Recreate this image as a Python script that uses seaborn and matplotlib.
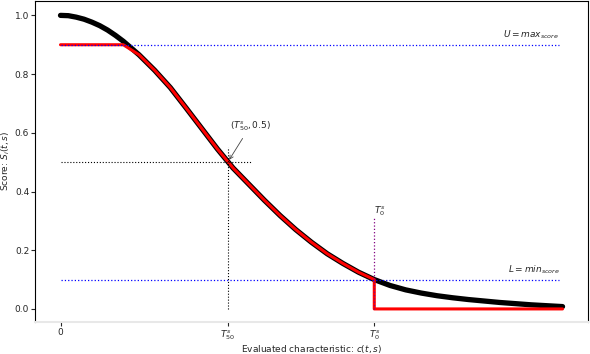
import numpy as np
import pandas as pd
import matplotlib
matplotlib.use('Agg')
import matplotlib.pyplot as plt
import seaborn as sns

# values (x in arbitrary units, T0 = 10)
char_x = [0, 0.25, 0.5, 0.75, 1, 1.25, 1.5, 1.75, 2, 2.5, 3, 3.5, 4, 4.5,
          5, 5.5, 6, 6.5, 7, 7.5, 8, 8.5, 9, 9.5, 10,
          10.5, 11, 11.5, 12, 12.5, 13, 14, 15, 16]
score = [1.0, 0.999, 0.994, 0.987, 0.977, 0.965, 0.950, 0.932, 0.912, 0.866,
         0.813, 0.754, 0.685, 0.615, 0.545, 0.480, 0.425, 0.370, 0.318,
         0.270, 0.227, 0.188, 0.155, 0.125, 0.100,
         0.080, 0.065, 0.054, 0.045, 0.038, 0.032, 0.022, 0.014, 0.008]

U = 0.9
L = 0.1
T50 = 5.33
T0 = 10
tick_pos = [0, T50, T0]
tick_labels = ['0', '$T^s_{50}$', '$T^s_0$']

data = pd.DataFrame({'c': char_x, 'score': score})

# clipped score: capped at U, zero after the threshold T0
clip = data.copy()
clip['score'] = clip['score'].clip(upper=U)
clip.loc[clip['c'] > T0, 'score'] = 0.0
drop = pd.DataFrame({'c': [T0], 'score': [0.0]})
clip = pd.concat([clip[clip['c'] <= T0], drop, clip[clip['c'] > T0]],
                 ignore_index=True)

sns.set_style('ticks')
plt.rcParams['font.size'] = 6.5

fig, ax = plt.subplots(figsize=(5.9, 3.54), dpi=100)
fig.subplots_adjust(left=0.06, right=0.996, top=0.998, bottom=0.09)

sns.lineplot(data=data, x='c', y='score', color='black', linewidth=3.8,
             sort=False, estimator=None, ax=ax)
sns.lineplot(data=clip, x='c', y='score', color='red', linewidth=2.2,
             sort=False, estimator=None, ax=ax)

# U and L bounds
ax.hlines([U, L], 0, 15.9, colors='blue', linestyles=':', linewidth=0.9)
ax.text(15.9, U + 0.012, '$U = max_{score}$', ha='right', va='bottom',
        fontsize=6.5)
ax.text(15.9, L + 0.012, '$L = min_{score}$', ha='right', va='bottom',
        fontsize=6.5)

# T50 guides
ax.hlines(0.5, 0, 6.1, colors='black', linestyles=':', linewidth=0.8)
ax.vlines(T50, 0, 0.55, colors='black', linestyles=':', linewidth=0.8)
ax.annotate('$(T^s_{50}, 0.5)$', xy=(T50, 0.5), xytext=(6.05, 0.6),
            ha='center', va='bottom', fontsize=6.5,
            arrowprops=dict(arrowstyle='->', color='#444444', lw=0.6))

# T0 guide
ax.vlines(T0, 0, 0.31, colors='purple', linestyles=':', linewidth=0.9)
ax.text(T0, 0.31, '$T^s_0$', ha='left', va='bottom', fontsize=6.5)

ax.set_xticks(tick_pos)
ax.set_xticklabels(tick_labels)
ax.set_ylim(-0.045, 1.05)
ax.set_xlabel('Evaluated characteristic: $c(t, s)$', fontsize=6.5, labelpad=0.5)
ax.set_ylabel('Score: $S_i(t, s)$', fontsize=6.5, labelpad=2)
ax.tick_params(labelsize=6.5, length=3, pad=1.5)

for side in ['left', 'right', 'top']:
    ax.spines[side].set_visible(True)
    ax.spines[side].set_color('black')
ax.spines['bottom'].set_color('#e8e8e8')
ax.spines['bottom'].set_linewidth(1.5)

fig.savefig('out.png', dpi=100)
